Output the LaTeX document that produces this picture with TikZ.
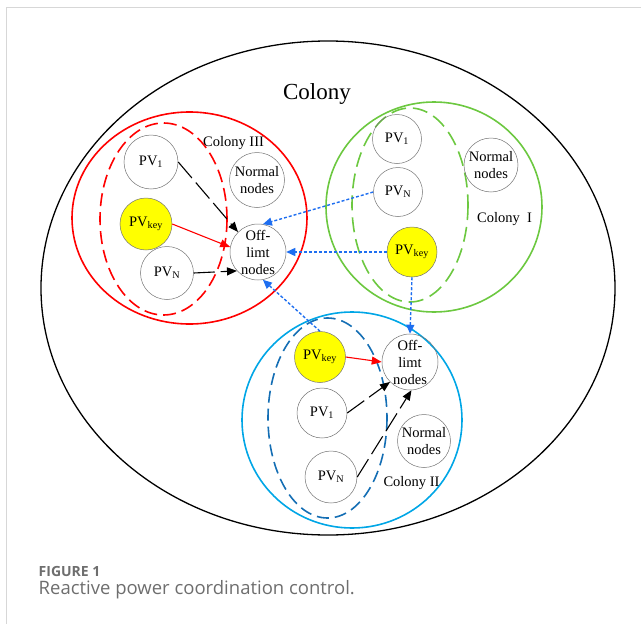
\documentclass[tikz,border=0pt]{standalone}
\usepackage{fontspec}
\setmainfont{Liberation Serif}
\newfontfamily\capfont{Open Sans}
\usetikzlibrary{arrows.meta}
\definecolor{cred}{RGB}{255,0,0}
\definecolor{cgreen}{RGB}{108,200,64}
\definecolor{ccyan}{RGB}{0,166,230}
\definecolor{cdblue}{RGB}{20,110,180}
\definecolor{cdot}{RGB}{30,110,240}
\definecolor{cyel}{RGB}{255,255,0}
\definecolor{cframe}{RGB}{215,215,215}
\definecolor{ccap}{RGB}{110,110,110}
\begin{document}
\begin{tikzpicture}[x=1pt,y=-1pt,
  nd/.style={circle,draw=black!55,line width=0.5pt,inner sep=0pt,minimum size=50pt,align=center,font=\fontsize{14.5}{16.5}\selectfont},
  keynd/.style={nd,fill=cyel},
  offnd/.style={nd,minimum size=56pt,font=\fontsize{14.5}{17}\selectfont},
  lbl/.style={font=\fontsize{14.5}{17}\selectfont,inner sep=0pt},
  blkarrow/.style={draw=black,line width=1.1pt,dash pattern=on 21pt off 6pt,-{Triangle[length=10pt,width=8pt]}},
  redarrow/.style={draw=cred,line width=1.1pt,-{Triangle[length=10pt,width=8pt]}},
  bluarrow/.style={draw=cdot,line width=1.4pt,dash pattern=on 3pt off 2pt,-{Triangle[length=9pt,width=8pt]}}
]
\useasboundingbox (0,0) rectangle (641,624);
% frame
\draw[cframe,line width=1.5pt] (6.5,624) -- (6.5,7.5) -- (641,7.5);
% outer colony
\draw[black,line width=1.3pt] (328,288) ellipse [x radius=287,y radius=247];
\node[font=\fontsize{23}{26}\selectfont,inner sep=0pt] (colony) at (317,94) {Colony};

% Colony III (red)
\draw[cred,line width=1.6pt] (189.5,218) ellipse [x radius=117.5,y radius=106];
\draw[cred,line width=1.6pt,dash pattern=on 13pt off 6pt] (163.5,219) ellipse [x radius=63.5,y radius=96];
\node[lbl] (lIII) at (233.5,143) {Colony III};
\node[nd,minimum size=54pt] (rPV1) at (151,162) {PV\textsubscript{1}};
\node[nd,minimum size=55pt] (rNorm) at (257,180) {Normal\\nodes};
\node[keynd,circle,minimum size=52pt] (rKey) at (146,224) {PV\textsubscript{key}};
\node[nd,minimum size=53pt] (rPVN) at (167,273) {PV\textsubscript{N}};
\node[offnd] (rOff) at (258,252) {Off-\\limt\\nodes};

% Colony I (green)
\draw[cgreen,line width=1.6pt] (434,207) ellipse [x radius=108,y radius=105];
\draw[cgreen,line width=1.6pt,dash pattern=on 15pt off 7pt] (410,205) ellipse [x radius=58,y radius=97];
\node[lbl] (lI) at (504.5,219) {Colony\ \ I};
\node[nd,minimum size=49pt] (gPV1) at (397,139) {PV\textsubscript{1}};
\node[nd,minimum size=49pt] (gPVN) at (398,192) {PV\textsubscript{N}};
\node[nd,minimum size=54pt] (gNorm) at (491,165) {Normal\\nodes};
\node[keynd,minimum size=50pt] (gKey) at (412,252) {PV\textsubscript{key}};

% Colony II (cyan)
\draw[ccyan,line width=1.6pt] (352,420) ellipse [x radius=110,y radius=108];
\draw[cdblue,line width=1.6pt,dash pattern=on 12pt off 6pt] (327.5,418) ellipse [x radius=59.5,y radius=100];
\node[lbl] (lII) at (411.5,483) {Colony\ II};
\node[keynd,minimum size=51pt] (iiKey) at (320,357) {PV\textsubscript{key}};
\node[offnd] (iiOff) at (410,362) {Off-\\limt\\nodes};
\node[nd,minimum size=50pt] (iiPV1) at (322,413) {PV\textsubscript{1}};
\node[nd,minimum size=53pt] (iiNorm) at (424,441) {Normal\\nodes};
\node[nd,minimum size=52pt] (iiPVN) at (331,477) {PV\textsubscript{N}};

% arrows in Colony III
\draw[blkarrow] (rPV1.east) -- (rOff.135);
\draw[redarrow] (rKey.east) -- (rOff.170);
\draw[blkarrow] (rPVN.east) -- (rOff.222);

% arrows in Colony II
\draw[redarrow] (iiKey.east) -- (iiOff.west);
\draw[blkarrow] (iiPV1.east) -- (iiOff.225);
\draw[blkarrow] (iiPVN.east) -- (iiOff.273);

% blue dotted links
\draw[bluarrow] (gPVN.west) -- (rOff.80);
\draw[bluarrow] (gKey.west) -- (rOff.east);
\draw[bluarrow] (gKey.south) -- (iiOff.north);
\draw[bluarrow] (iiKey.north) -- (rOff.280);

% caption
\node[anchor=west,inner sep=0pt,text=ccap,font=\capfont\fontsize{14}{16}\selectfont\bfseries] (fig) at (38.5,571) {FIGURE 1};
\node[anchor=west,inner sep=0pt,text=ccap,font=\capfont\fontsize{18.5}{21}\selectfont] (cap) at (38.5,590) {Reactive power coordination control.};
\end{tikzpicture}
\end{document}
